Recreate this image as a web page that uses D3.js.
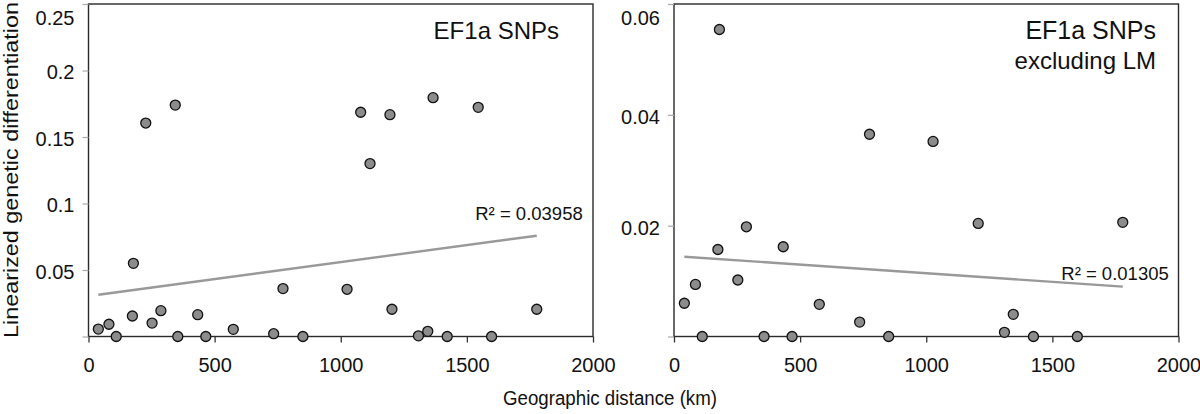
<!DOCTYPE html>
<html>
<head>
<meta charset="utf-8">
<script src="https://cdn.jsdelivr.net/npm/d3@7"></script>
<style>
  html, body { margin: 0; padding: 0; background: #fff; }
  svg text { font-family: "Liberation Sans", Arial, Helvetica, sans-serif; fill: #111; }
  .frame { fill: none; stroke: #2a2a2a; stroke-width: 1.4; }
  .domain { display: none; }
</style>
</head>
<body>
<svg></svg>
<script>
// left panel: all samples
var distAll = [39, 81, 110, 178, 174, 227, 252, 287, 344, 354, 433, 465, 574, 734, 771, 850,
               1025, 1079, 1116, 1195, 1203, 1308, 1345, 1366, 1422, 1545, 1598, 1777];
var diffAll = [0.0056, 0.0092, 0, 0.055, 0.0154, 0.1605, 0.0101, 0.0194, 0.174, 0, 0.0164, 0, 0.0054, 0.0021, 0.036, 0,
               0.0355, 0.1686, 0.130, 0.1668, 0.0205, 0.0005, 0.0039, 0.1796, 0, 0.1723, 0, 0.0205];
var trendAllX = [39, 1777];
var trendAllY = [0.0314, 0.0758];

// right panel: excluding LM
var distExLM = [41, 85, 112, 174, 180, 253, 287, 357, 433, 468, 576, 736, 775, 851,
                1027, 1206, 1310, 1345, 1425, 1599, 1779];
var diffExLM = [0.006, 0.0094, 0, 0.0157, 0.0554, 0.0102, 0.0198, 0, 0.0162, 0, 0.0058, 0.0026, 0.0365, 0,
                0.0352, 0.0204, 0.00075, 0.004, 0, 0, 0.0206];
var trendExX = [41, 1779];
var trendExY = [0.0144, 0.0090];

var xTicks = [0, 500, 1000, 1500, 2000];
var yTicksAll = [0, 0.05, 0.1, 0.15, 0.2, 0.25];
var yTicksEx = [0, 0.02, 0.04, 0.06];

(function (d3) {
  'use strict';

  var width = 1200, height = 414,
    svg = d3.select("svg")
      .attr("width", width)
      .attr("height", height);

  function drawPanel(opt) {
    var x = d3.scaleLinear().domain([0, 2000]).range([opt.left, opt.right]),
      y = d3.scaleLinear().domain([0, opt.yMax]).range([336.5, 4]),
      g = svg.append("g");

    g.append("rect")
      .attr("class", "frame")
      .attr("x", opt.left)
      .attr("y", y(opt.yMax))
      .attr("width", opt.right - opt.left)
      .attr("height", y(0) - y(opt.yMax));

    g.append("g")
      .attr("transform", "translate(0," + y(0) + ")")
      .call(d3.axisBottom(x).tickValues(xTicks).tickSize(6).tickPadding(15).tickFormat(d3.format("d")))
      .call(function (a) {
        a.selectAll("text").style("font-size", "20px").style("fill", "#111");
        a.selectAll("line").style("stroke", "#333").style("stroke-width", 1.3);
      });

    g.append("g")
      .attr("transform", "translate(" + opt.left + ",0)")
      .call(d3.axisLeft(y).tickValues(opt.yTicks).tickSize(6).tickPadding(8)
        .tickFormat(function (d) { return d === 0 ? "" : String(+d.toFixed(3)); }))
      .call(function (a) {
        a.selectAll("text")
          .style("font-size", "20px").style("fill", "#111")
          .attr("dy", function (d) { return d === opt.yMax ? "1.0em" : "0.42em"; });
        a.selectAll("line").style("stroke", "#aaa").style("stroke-width", 1.2);
      });

    var line = d3.line()
      .x(function (d) { return x(d[0]); })
      .y(function (d) { return y(d[1]); });

    g.append("path")
      .datum(d3.zip(opt.trendX, opt.trendY))
      .attr("d", line)
      .attr("fill", "none")
      .attr("stroke", "#999")
      .attr("stroke-width", 2.4);

    g.selectAll(".dot")
      .data(d3.zip(opt.dist, opt.diff))
      .enter().append("circle")
      .attr("class", "dot")
      .attr("cx", function (d) { return x(d[0]); })
      .attr("cy", function (d) { return y(d[1]); })
      .attr("r", 5)
      .attr("fill", "#8c8c8c")
      .attr("stroke", "#111")
      .attr("stroke-width", 1.3);

    // R² label sits above the right end of the trend line
    g.append("text")
      .attr("x", x(opt.trendX[1]) + opt.r2dx)
      .attr("y", y(opt.trendY[1]) + opt.r2dy)
      .attr("text-anchor", "end")
      .style("font-size", "18.5px")
      .text(opt.r2);

    opt.title.forEach(function (t, i) {
      g.append("text")
        .attr("x", opt.titleX)
        .attr("y", 39 + i * 30)
        .attr("text-anchor", "end")
        .style("font-size", (i === 0 ? opt.titleSize : 24) + "px")
        .text(t);
    });
  }

  drawPanel({
    left: 88.5, right: 593, yMax: 0.25, yTicks: yTicksAll,
    dist: distAll, diff: diffAll, trendX: trendAllX, trendY: trendAllY,
    r2: "R² = 0.03958", r2dx: 46, r2dy: -16,
    title: ["EF1a SNPs"], titleX: 559, titleSize: 24
  });

  drawPanel({
    left: 674, right: 1178.5, yMax: 0.06, yTicks: yTicksEx,
    dist: distExLM, diff: diffExLM, trendX: trendExX, trendY: trendExY,
    r2: "R² = 0.01305", r2dx: 46, r2dy: -7,
    title: ["EF1a SNPs", "excluding LM"], titleX: 1156, titleSize: 25
  });

  svg.append("text")
    .attr("transform", "translate(17.5,170) rotate(-90)")
    .attr("text-anchor", "middle")
    .style("font-size", "20px")
    .attr("textLength", 336)
    .attr("lengthAdjust", "spacingAndGlyphs")
    .text("Linearized genetic differentiation");

  svg.append("text")
    .attr("x", 610)
    .attr("y", 405)
    .attr("text-anchor", "middle")
    .style("font-size", "20px")
    .attr("textLength", 214)
    .attr("lengthAdjust", "spacingAndGlyphs")
    .text("Geographic distance (km)");
}(d3));
</script>
</body>
</html>
